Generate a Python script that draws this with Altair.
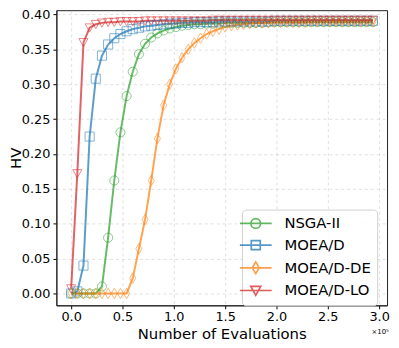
import altair as alt
import pandas as pd

series = ["NSGA-II", "MOEA/D", "MOEA/D-DE", "MOEA/D-LO"]
colors = ["#2ca02c", "#1f77b4", "#ff7f0e", "#d62728"]

evaluations = [0, 6000, 12000, 18000, 24000, 30000, 36000, 42000, 48000, 54000,
               60000, 66000, 72000, 78000, 84000, 90000, 96000, 102000, 108000, 114000,
               120000, 126000, 132000, 138000, 144000, 150000, 156000, 162000, 168000, 174000,
               180000, 186000, 192000, 198000, 204000, 210000, 216000, 222000, 228000, 234000,
               240000, 246000, 252000, 258000, 264000, 270000, 276000, 282000, 288000, 294000]

hv_nsga2 = [0.000, 0.000, 0.000, 0.000, 0.000, 0.010, 0.080, 0.162, 0.231, 0.283,
            0.318, 0.343, 0.358, 0.367, 0.373, 0.377, 0.380, 0.382, 0.384, 0.385,
            0.386, 0.386, 0.387, 0.387, 0.387, 0.388, 0.388, 0.388, 0.388, 0.388,
            0.388, 0.388, 0.389, 0.389, 0.389, 0.389, 0.389, 0.389, 0.389, 0.389,
            0.389, 0.389, 0.389, 0.389, 0.389, 0.389, 0.389, 0.389, 0.389, 0.389]

hv_moead = [0.000, 0.003, 0.040, 0.225, 0.308, 0.341, 0.357, 0.366, 0.372, 0.376,
            0.379, 0.381, 0.383, 0.384, 0.385, 0.386, 0.387, 0.387, 0.388, 0.388,
            0.389, 0.389, 0.389, 0.389, 0.390, 0.390, 0.390, 0.390, 0.390, 0.390,
            0.390, 0.390, 0.390, 0.391, 0.391, 0.391, 0.391, 0.391, 0.391, 0.391,
            0.391, 0.391, 0.391, 0.391, 0.391, 0.391, 0.391, 0.391, 0.391, 0.391]

hv_moead_de = [0.000, 0.000, 0.000, 0.000, 0.000, 0.000, 0.000, 0.000, 0.000, 0.000,
               0.022, 0.064, 0.106, 0.162, 0.222, 0.270, 0.300, 0.322, 0.338, 0.350,
               0.359, 0.366, 0.372, 0.376, 0.379, 0.382, 0.384, 0.385, 0.386, 0.387,
               0.388, 0.388, 0.388, 0.389, 0.389, 0.389, 0.389, 0.389, 0.389, 0.390,
               0.390, 0.390, 0.390, 0.390, 0.390, 0.390, 0.390, 0.390, 0.390, 0.390]

hv_moead_lo = [0.007, 0.172, 0.360, 0.381, 0.386, 0.388, 0.389, 0.389, 0.390, 0.390,
               0.390, 0.390, 0.391, 0.391, 0.391, 0.391, 0.391, 0.391, 0.391, 0.391,
               0.391, 0.391, 0.391, 0.392, 0.392, 0.392, 0.392, 0.392, 0.392, 0.392,
               0.392, 0.392, 0.392, 0.392, 0.392, 0.392, 0.392, 0.392, 0.392, 0.392,
               0.392, 0.392, 0.392, 0.392, 0.392, 0.392, 0.392, 0.392, 0.392, 0.392]

x_ticks = [0.0, 0.5, 1.0, 1.5, 2.0, 2.5, 3.0]
y_ticks = [0.00, 0.05, 0.10, 0.15, 0.20, 0.25, 0.30, 0.35, 0.40]

values = [hv_nsga2, hv_moead, hv_moead_de, hv_moead_lo]
rows = []
for name, vals in zip(series, values):
    for e, v in zip(evaluations, vals):
        rows.append({"series": name, "key": name + " m", "evals": e, "hv": v})
df = pd.DataFrame(rows)

marker_keys = [s + " m" for s in series]
legend_shapes = [
    "M-2.3,0L2.3,0M0.7,0A0.7,0.7,0,1,1,-0.7,0A0.7,0.7,0,1,1,0.7,0Z",
    "M-2.3,0L2.3,0M-0.65,-0.65L0.65,-0.65L0.65,0.65L-0.65,0.65Z",
    "M-2.3,0L2.3,0M0,-0.85L0.5,0L0,0.85L-0.5,0Z",
    "M-2.3,0L2.3,0M-0.72,-0.6L0.72,-0.6L0,0.7Z",
]
marker_shapes = [
    "circle",
    "square",
    "M0,-1.15L0.68,0L0,1.15L-0.68,0Z",
    "M-1,-0.85L1,-0.85L0,0.95Z",
]

color_scale = alt.Scale(domain=series + marker_keys, range=colors + colors)
shape_scale = alt.Scale(domain=series + marker_keys, range=legend_shapes + marker_shapes)

leg = alt.Legend(
    title=None, values=series, orient="none", legendX=188, legendY=202,
    labelFontSize=15, labelFont="DejaVu Sans", labelColor="black",
    symbolSize=196, symbolStrokeWidth=1.7, labelOffset=21, rowPadding=5,
    fillColor="rgba(255,255,255,0.85)", strokeColor="#d0d0d0", cornerRadius=4,
    padding=6, symbolOpacity=0.75,
)

W, H = 335, 299
xs = alt.X("x:Q", scale=alt.Scale(domain=[-0.144, 3.077], nice=False, zero=False),
           axis=alt.Axis(values=x_ticks, format=".1f", title="Number of Evaluations"))
ys = alt.Y("hv:Q", scale=alt.Scale(domain=[-0.017, 0.4062], nice=False, zero=False),
           axis=alt.Axis(values=y_ticks, format=".2f", title="HV",
                         titleX=-41, titleBaseline="middle"))

base = alt.Chart(df).transform_calculate(x="datum.evals / 100000")

lines = base.mark_line(strokeWidth=2, opacity=0.72).encode(
    x=xs, y=ys,
    color=alt.Color("key:N", scale=color_scale, legend=leg),
    detail="key:N",
)
points = base.mark_point(filled=False, strokeWidth=1, opacity=0.55, size=85).encode(
    x=xs, y=ys,
    color=alt.Color("key:N", scale=color_scale, legend=leg),
    shape=alt.Shape("key:N", scale=shape_scale, legend=leg),
)

offset_text = alt.Chart(pd.DataFrame({"t": ["×10⁵"]})).mark_text(
    fontSize=7, font="DejaVu Sans", color="black", align="center"
).encode(text="t:N", x=alt.value(328), y=alt.value(326))

chart = alt.layer(lines, points, offset_text).properties(
    width=W, height=H,
    autosize=alt.AutoSizeParams(type="none"),
    padding={"left": 49, "top": 0, "right": 4, "bottom": 40},
).configure_view(stroke="#222222", strokeWidth=1).configure_axis(
    labelFont="DejaVu Sans", labelFontSize=13, labelColor="black",
    titleFont="DejaVu Sans", titleFontSize=15, titleFontWeight="normal", titleColor="black",
    tickColor="black", tickSize=3.5, domainColor="#222222",
    gridColor="#b0b0b0", gridOpacity=0.5, gridDash=[3, 3], gridWidth=0.8,
).configure_axisX(labelPadding=2, titlePadding=3).configure_axisY(labelPadding=3)

chart.save("out.html", embed_options={"renderer": "svg", "actions": False})
